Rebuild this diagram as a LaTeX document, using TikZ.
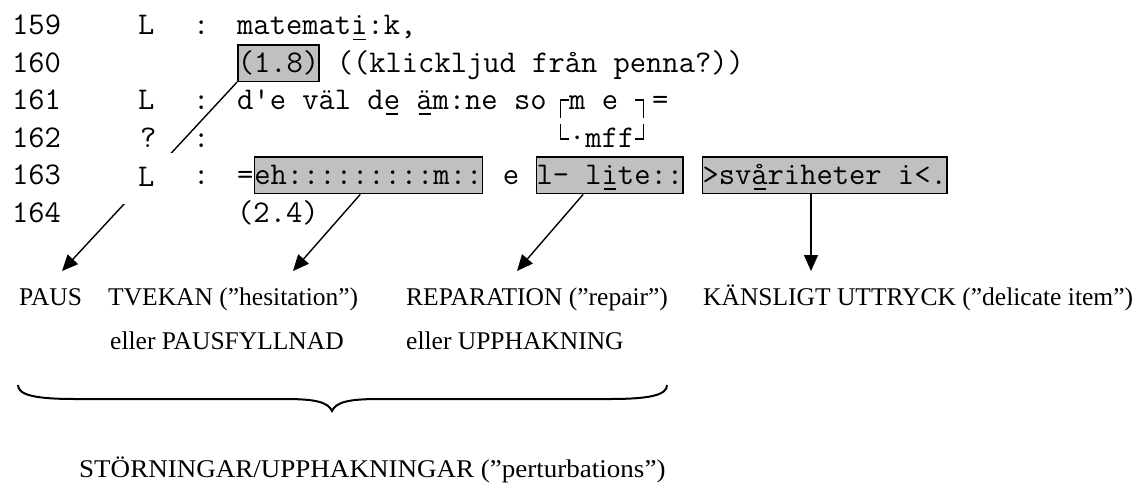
\documentclass[tikz,border=0pt]{standalone}
\usepackage{fontspec}
\setmainfont{Liberation Serif}
\usetikzlibrary{arrows.meta,calc}
\pgfdeclarelayer{background}
\pgfsetlayers{background,main}
\definecolor{hlgray}{HTML}{C0C0C0}
% typewriter face of the transcript (Latin Modern Mono, 16.6pt per character)
\newcommand\mono{\fontsize{31.62pt}{34pt}\selectfont\ttfamily}
\newcommand\labfont{\fontsize{25.5pt}{30pt}\selectfont\rmfamily}
% underlined (stressed) character in the transcript
\newcommand\ulc[1]{\makebox[0pt][l]{\hspace{0.07em}\rule[-5.5pt]{0.385em}{1.8pt}}#1}
\begin{document}
\begin{tikzpicture}[x=1pt,y=-1pt,
  txt/.style={anchor=base west, inner sep=0pt, font=\mono},
  hl/.style={txt, draw, line width=1.5pt, fill=hlgray, inner ysep=1.5pt,
             text height=26pt, text depth=7.5pt},
  lab/.style={anchor=base west, inner sep=0pt, font=\labfont},
  pointer/.style={line width=1.4pt, -{Triangle[length=16pt,width=14pt]}},
  bracket/.style={line width=1.3pt},
]
\useasboundingbox (0,0) rectangle (1139,484);

% ---- transcript, lines 159-164 (baselines 37.4pt apart) ----
\node[txt] (n159) at (12,35)    {159};
\node[txt] (n160) at (12,72.4)  {160};
\node[txt] (n161) at (12,109.8) {161};
\node[txt] (n162) at (12,147.2) {162};
\node[txt] (n163) at (12,184.6) {163};
\node[txt] (n164) at (12,222)   {164};

\node[txt] (s159) at (138,35)    {L};
\node[txt] (s161) at (138,109.8) {L};
\node[txt] (s162) at (140,147.2) {?};
\node[txt] (s163) at (138,186.6) {L};

\node[txt] (c159) at (193,35)    {:};
\node[txt] (c161) at (193,109.8) {:};
\node[txt] (c162) at (193,147.2) {:};
\node[txt] (c163) at (193,184.6) {:};

% line 159
\node[txt] (t159) at (237,35) {matemat\ulc{i}:k,};
% line 160
\node[hl]  (p18)  at (237,72.4)   {(1.8)};
\node[txt] (t160) at (336.6,72.4) {((klickljud från penna?))};
% line 161 with the overlap marks
\node[txt] (t161) at (237,109.8)  {d'e väl d\ulc{e} \ulc{ä}m:ne so};
\node[txt] (ov1)  at (569,109.8)  {m e};
\node[txt] (eq1)  at (652,109.8)  {=};
% line 162
\node[txt] (ov2)  at (569,147.2)  {·mff};
\draw[bracket] (569,100) -- (560.7,100) -- (560.7,118);
\draw[bracket] (560.7,124) -- (560.7,139) -- (569,139);
\draw[bracket] (635.4,100) -- (643.7,100) -- (643.7,118);
\draw[bracket] (643.7,124) -- (643.7,139) -- (635.4,139);
% line 163
\node[txt] (eq2)  at (237,184.6)   {=};
\node[hl]  (eh)   at (253.6,184.6) {eh:::::::::m::};
\node[txt] (e163) at (502.6,184.6) {e};
\node[hl]  (lite) at (535.8,184.6) {l- l\ulc{i}te::};
\node[hl]  (svar) at (701.8,184.6) {>sv\ulc{å}riheter i<.};
% line 164
\node[txt] (p24)  at (237,222) {(2.4)};

% ---- categories ----
\node[lab] (paus)  at (19,305)  {PAUS};
\node[lab] (tvek)  at (108,305) {TVEKAN (”hesitation”)};
\node[lab] (tvek2) at (110,349) {eller PAUSFYLLNAD};
\node[lab] (rep)   at (406,305) {REPARATION (”repair”)};
\node[lab] (rep2)  at (406,349) {eller UPPHAKNING};
\node[lab] (kans)  at (703,305) {KÄNSLIGT UTTRYCK (”delicate item”)};
\node[lab] (storn) at (79,477)
  {\scalebox{1.06}[1]{STÖRNINGAR/UPPHAKNINGAR (”perturbations”)}};

% ---- pointers ----
\coordinate (tipPaus) at (62,271);
\coordinate (tipTvek) at (293,271);
\coordinate (tipRep)  at (517,271);
\coordinate (tipKans) at (811,271);
\begin{pgfonlayer}{background}
  \draw[pointer] (p18.south west) -- (tipPaus);
  \draw[pointer] ($(eh.south west)!0.465!(eh.south east)$) -- (tipTvek);
  \draw[pointer] ($(lite.south west)!0.32!(lite.south east)$) -- (tipRep);
  \draw[pointer] (svar.south -| tipKans) -- (tipKans);
  % the speaker column of line 163 interrupts the first pointer
  \fill[white] (118,153) rectangle (182,204);
\end{pgfonlayer}

% ---- brace over the perturbation types ----
\draw[line width=2pt]
  (18,385) .. controls (18,395) and (35,399) .. (75,399)
  -- (285,399) .. controls (315,399) and (328,402) .. (332,411)
  .. controls (336,402) and (349,399) .. (379,399)
  -- (610,399) .. controls (650,399) and (667,395) .. (667,385);
\end{tikzpicture}
\end{document}
